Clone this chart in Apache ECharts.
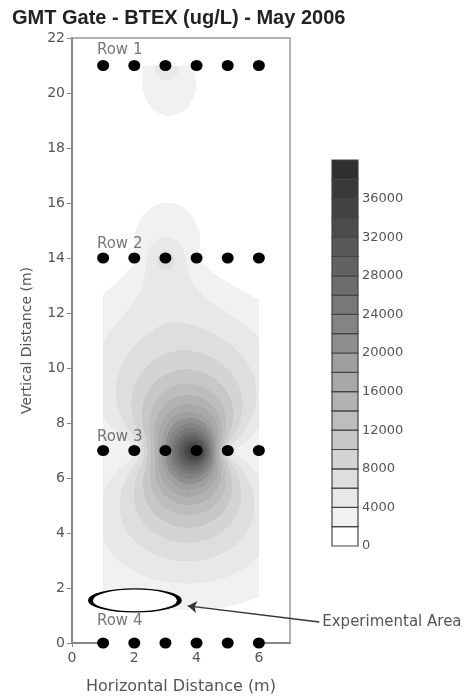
<!DOCTYPE html>
<html><head><meta charset="utf-8">
<script src="https://cdn.jsdelivr.net/npm/echarts@6/dist/echarts.min.js"></script>
<style>html,body{margin:0;padding:0;background:#fff}#c{width:475px;height:696px}</style>
</head><body><div id="c"></div>
<script>
// ---- data ----
const titleText = 'GMT Gate - BTEX (ug/L) - May 2006';
const wellX = [1, 2, 3, 4, 5, 6];
const rowY = [21, 14, 7, 0];
const rowNames = ['Row 1', 'Row 2', 'Row 3', 'Row 4'];
const rowLabelY = [21.55, 14.5, 7.5, 0.8];
const rowLabelX = 0.8;
const row1Values = [0, 300, 6000, 1500, 0, 0];
const row2Values = [0, 1500, 7500, 2000, 500, 0];
const row3Values = [2500, 2500, 20000, 40000, 4500, 2200];
const row4Values = [0, 0, 0, 0, 0, 0];
const contourStep = 2000;
const contourMax = 40000;
const colorbarLabelStep = 4000;
const bandColors = ['#ffffff','#f1f1f1','#e8e8e8','#dedede','#d4d4d4','#c7c7c7','#bdbdbd','#b2b2b2','#a8a8a8','#9f9f9f',
  '#8f8f8f','#848484','#787878','#6d6d6d','#626262','#585858','#4c4c4c','#424242','#393939','#2f2f2f'];
const experimentalArea = {cx: 2.02, cy: 1.55, label: 'Experimental Area', arrowFrom: [3.72, 1.35], arrowTo: [7.94, 0.76]};
const xTicks = [0, 2, 4, 6];

// ---- build well list ----
const rowsValues = [row1Values, row2Values, row3Values, row4Values];
const wells = [];
rowY.forEach((y, r) => wellX.forEach((x, i) => wells.push([x, y, rowsValues[r][i]])));

// ordinary kriging (linear variogram), dual form
function solve(A, b) {
  const n = b.length;
  const M = A.map((row, i) => row.concat([b[i]]));
  for (let c = 0; c < n; c++) {
    let p = c;
    for (let r = c + 1; r < n; r++) if (Math.abs(M[r][c]) > Math.abs(M[p][c])) p = r;
    [M[c], M[p]] = [M[p], M[c]];
    for (let r = 0; r < n; r++) {
      if (r === c) continue;
      const f = M[r][c] / M[c][c];
      for (let k = c; k <= n; k++) M[r][k] -= f * M[c][k];
    }
  }
  return M.map((row, i) => row[n] / row[i]);
}
const N = wells.length;
const A = [], rhs = [];
for (let i = 0; i < N; i++) {
  const row = [];
  for (let j = 0; j < N; j++) row.push(Math.hypot(wells[i][0] - wells[j][0], wells[i][1] - wells[j][1]));
  row.push(1);
  A.push(row); rhs.push(wells[i][2]);
}
A.push(new Array(N).fill(1).concat([0])); rhs.push(0);
const coef = solve(A, rhs);
function fieldAt(x, y) {
  let v = coef[N];
  for (let i = 0; i < N; i++) v += coef[i] * Math.hypot(x - wells[i][0], y - wells[i][1]);
  return v;
}
function hexToRgb(h) { return [parseInt(h.substr(1,2),16), parseInt(h.substr(3,2),16), parseInt(h.substr(5,2),16)]; }
const bandRgb = bandColors.map(hexToRgb);

let fieldCache = null;
function fieldCanvas(w, h, x0, x1, y0, y1) {
  const key = w + 'x' + h;
  if (fieldCache && fieldCache.key === key) return fieldCache.canvas;
  const cv = document.createElement('canvas');
  cv.width = w; cv.height = h;
  const ctx = cv.getContext('2d');
  const img = ctx.createImageData(w, h);
  for (let py = 0; py < h; py++) {
    const y = y1 - (py + 0.5) / h * (y1 - y0);
    for (let px = 0; px < w; px++) {
      const x = x0 + (px + 0.5) / w * (x1 - x0);
      const v = fieldAt(x, y);
      let lvl = Math.floor(v / contourStep);
      lvl = Math.max(0, Math.min(bandColors.length - 1, lvl));
      const c = bandRgb[lvl];
      const o = (py * w + px) * 4;
      img.data[o] = c[0]; img.data[o+1] = c[1]; img.data[o+2] = c[2]; img.data[o+3] = 255;
    }
  }
  ctx.putImageData(img, 0, 0);
  fieldCache = {key, canvas: cv};
  return cv;
}

const xMin = Math.min(...wellX), xMax = Math.max(...wellX);
const yMin = Math.min(...rowY), yMax = Math.max(...rowY);

const colorbarPieces = bandColors.map((c, i) => [i * contourStep, (i + 1) * contourStep, c]);

const labelFont = 'DejaVu Sans';
const chart = echarts.init(document.getElementById('c'), null, {renderer: 'canvas'});
chart.setOption({
  animation: false,
  backgroundColor: '#fff',
  title: {text: titleText, left: 7, top: 3,
    textStyle: {fontFamily: 'Liberation Sans', fontSize: 20, fontWeight: 'bold', color: '#222'}},
  grid: [
    {left: 72, top: 38, right: 185, bottom: 53, show: true, borderColor: '#999', borderWidth: 1.5,
      backgroundColor: 'transparent', outerBoundsMode: 'none', containLabel: false},
    {left: 332, top: 160, width: 26, bottom: 150, outerBoundsMode: 'none', containLabel: false}
  ],
  xAxis: [
    {gridIndex: 0, type: 'value', min: 0, max: 7, interval: 2,
      name: 'Horizontal Distance (m)', nameLocation: 'middle', nameGap: 36,
      nameTextStyle: {fontFamily: labelFont, fontSize: 16, color: '#555'},
      axisLine: {lineStyle: {color: '#888', width: 2}},
      axisTick: {length: 4, lineStyle: {color: '#888'}, customValues: xTicks},
      axisLabel: {fontFamily: labelFont, fontSize: 14, color: '#555', margin: 8, customValues: xTicks},
      splitLine: {show: false}},
    {gridIndex: 1, type: 'value', min: 0, max: 1, show: false}
  ],
  yAxis: [
    {gridIndex: 0, type: 'value', min: 0, max: 22, interval: 2,
      name: 'Vertical Distance (m)', nameLocation: 'middle', nameGap: 38,
      nameTextStyle: {fontFamily: labelFont, fontSize: 14, color: '#555'},
      axisLine: {lineStyle: {color: '#888', width: 2}},
      axisTick: {length: 5, lineStyle: {color: '#888'}},
      axisLabel: {fontFamily: labelFont, fontSize: 14, color: '#555', margin: 7},
      splitLine: {show: false}},
    {gridIndex: 1, type: 'value', min: 0, max: contourMax, interval: colorbarLabelStep, position: 'right',
      axisLine: {show: false}, axisTick: {show: false}, splitLine: {show: false},
      axisLabel: {fontFamily: labelFont, fontSize: 13, color: '#555', margin: 4,
        formatter: v => v >= contourMax ? '' : String(v)}}
  ],
  series: [
    {type: 'custom', xAxisIndex: 0, yAxisIndex: 0, z: 1, silent: true,
      data: [[xMin, yMin, xMax, yMax]],
      renderItem: (params, api) => {
        const p0 = api.coord([api.value(0), api.value(3)]);
        const p1 = api.coord([api.value(2), api.value(1)]);
        const w = Math.round(p1[0] - p0[0]), h = Math.round(p1[1] - p0[1]);
        return {type: 'image', style: {image: fieldCanvas(w, h, api.value(0), api.value(2), api.value(1), api.value(3)),
          x: Math.round(p0[0]), y: Math.round(p0[1]), width: w, height: h}};
      }},
    {type: 'scatter', xAxisIndex: 0, yAxisIndex: 0, z: 5, symbol: 'circle', symbolSize: [12, 11],
      itemStyle: {color: '#000', opacity: 1}, data: wells.map(w => [w[0], w[1]])},
    {type: 'scatter', xAxisIndex: 0, yAxisIndex: 0, z: 6, symbolSize: 0,
      data: rowNames.map((n, i) => ({value: [rowLabelX, rowLabelY[i]], name: n})),
      label: {show: true, position: 'right', distance: 0, formatter: p => p.name,
        fontFamily: labelFont, fontSize: 15, color: '#555'}},
    {type: 'scatter', xAxisIndex: 0, yAxisIndex: 0, z: 6, symbol: 'circle', symbolSize: [89, 23],
      itemStyle: {color: '#fff', borderColor: '#000', borderWidth: 2.5, opacity: 1},
      data: [[experimentalArea.cx, experimentalArea.cy]]},
    {type: 'lines', coordinateSystem: 'cartesian2d', xAxisIndex: 0, yAxisIndex: 0, z: 7, clip: false,
      symbol: ['arrow', 'none'], symbolSize: [9, 12],
      lineStyle: {color: '#333', width: 1.5, opacity: 1},
      label: {show: true, position: 'end', distance: 3, formatter: experimentalArea.label,
        fontFamily: labelFont, fontSize: 15, color: '#555'},
      data: [{coords: [experimentalArea.arrowFrom, experimentalArea.arrowTo]}]},
    {type: 'custom', xAxisIndex: 1, yAxisIndex: 1, z: 2, silent: true,
      data: colorbarPieces.map(p => [p[0], p[1]]),
      renderItem: (params, api) => {
        const a = api.coord([0, api.value(0)]);
        const b = api.coord([1, api.value(1)]);
        return {type: 'rect', shape: {x: a[0], y: b[1], width: b[0] - a[0], height: a[1] - b[1]},
          style: {fill: colorbarPieces[params.dataIndex][2], stroke: '#444', lineWidth: 1.2}};
      }}
  ]
});
</script></body></html>
